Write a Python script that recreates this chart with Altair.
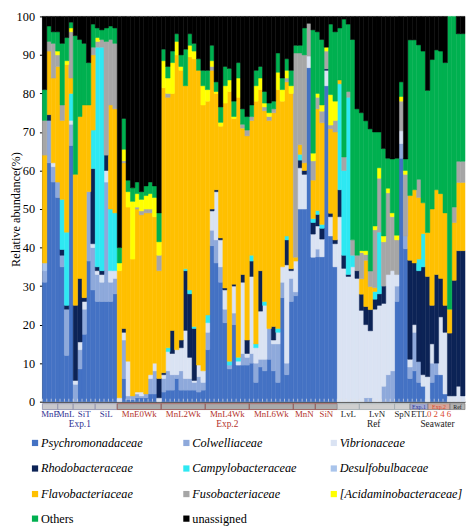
import altair as alt
import pandas as pd

# ---------------- data ----------------
categories = ["Psychromonadaceae", "Colwelliaceae", "Vibrionaceae",
              "Rhodobacteraceae", "Campylobacteraceae", "Desulfobulbaceae",
              "Flavobacteriaceae", "Fusobacteriaceae", "[Acidaminobacteraceae]",
              "Others", "unassigned"]

psychro = [
    31, 62, 57, 53, 35, 12, 66.5, 0, 8.5, 17.5, 36.5, 29, 26, 26, 26, 26, 28,
    0, 6, 0.5, 0.5, 1, 1, 1, 2, 2, 0,
    2.5, 3, 3, 6, 3, 3, 3, 3, 2.5, 3,
    13.5, 40.5, 36, 31, 20.5, 8.5, 20, 9.5, 9.5, 9.5,
    10, 5, 9, 8, 11, 8, 5, 27, 7, 26,
    27.5, 50, 50, 86.7, 37.5,
    37.6, 37.6, 82, 43, 35,
    0, 0, 0, 0, 0,
    0, 0, 0, 0, 0, 0, 0, 0,
    26, 63.2, 39.7,
    6, 8, 5, 4, 0, 5, 7, 7, 2, 0, 0, 0, 0,
]
colwell = [
    3, 11, 4, 4, 3, 12, 5.5, 4.5, 5, 6.5, 18, 11, 7, 5, 31, 5, 4,
    0, 10, 1, 1, 1, 0.5, 1, 4, 6, 0,
    3.5, 5, 4, 1, 5, 3, 3, 2, 4, 2,
    4.5, 4, 6, 4, 3.5, 1, 3, 0, 3, 2,
    2.5, 5, 2, 3, 8, 7, 10, 4, 3, 6,
    1, 0, 0, 0, 0,
    2, 0, 0, 0, 0,
    0, 0, 0, 0, 0,
    0, 1, 1, 0, 0, 4, 7, 8,
    4, 3.8, 3.3,
    3, 10, 5.4, 0, 0, 5, 3, 0, 0, 0, 0, 0, 0,
]
vibrio = [
    0, 0, 1, 0, 0, 0, 1, 1, 2, 2, 0, 1, 1, 2, 3, 3, 2,
    1, 2, 9, 0, 0.5, 1, 0, 1, 2, 1,
    1, 5, 5.5, 6.5, 6, 12.5, 5.5, 0.5, 3, 3,
    2.5, 5, 12.5, 7, 5, 0, 7, 1, 18.5, 1,
    20, 4, 12.5, 14, 0, 1, 3, 4, 25.5, 2,
    8, 10.7, 9, 3, 6,
    6, 4.6, 4, 5, 6,
    48, 34.6, 32.5, 35, 32,
    23.7, 19, 17.4, 24, 25, 21.5, 26, 26,
    3, 3.3, 0,
    2, 2, 0, 3, 6.5, 5, 0, 15, 16, 1.5, 1.5, 4, 1.5,
]
rhodo = [
    0, 1.5, 0, 0, 1.5, 1, 0, 19.5, 16.5, 1, 0, 19.5, 1, 1, 4, 0, 0,
    0, 1, 0, 0, 0, 0, 0, 0, 0, 5,
    0.5, 0, 6, 0, 2, 15.5, 16.5, 13.5, 0, 0,
    0, 0.5, 0.5, 0.5, 0.5, 0, 0.5, 0, 2, 3.5,
    4, 0, 10.5, 0, 0, 3.5, 0, 0, 6.5, 0.5,
    0, 2, 1, 0, 3,
    3, 2.8, 0.4, 0.9, 1,
    7, 3.4, 0.5, 0, 2,
    4.2, 4.7, 5.5, 2.6, 3, 4.5, 0, 0,
    0, 0, 0,
    25.7, 16, 23.6, 28, 26, 10, 23, 10, 7, 16.3, 30, 35.2, 37.7,
]
campylo = [
    0, 0, 0, 0, 13, 19, 7, 0, 0, 0, 0, 10, 57, 58, 0, 16, 15,
    0, 0, 0, 0, 0, 0, 0, 0, 0, 0,
    0, 1, 0, 0, 0, 0.5, 1, 0.5, 0, 0,
    2, 0, 0, 0, 0, 1, 0, 1, 0, 0,
    1.5, 1, 0, 1, 0, 0, 1, 0, 1, 0,
    0, 1.5, 0, 0, 1,
    1, 1, 0, 0, 0,
    27.5, 22, 46, 3, 0,
    0, 0, 0, 2, 16, 0, 0, 0,
    0, 0, 0,
    0, 0, 3, 8.6, 0, 0, 0, 0, 0, 0, 0, 0, 0,
]
desulfo = [
    2, 0, 0, 0, 0, 0, 0, 0, 0, 0, 0, 0, 0, 0, 0, 0, 0,
    0, 0, 0, 0, 0, 0, 0, 0, 0, 0,
    0, 0, 0, 0, 0, 0, 0, 0, 0, 0,
    0, 0, 0, 0, 0, 0, 0, 0, 0, 0,
    0, 0, 0, 0, 0, 0, 0, 0, 0, 0,
    0, 0, 0, 0, 0,
    0, 0, 0, 0, 0,
    0, 0, 0, 0, 0,
    0, 0, 0, 0, 0, 0, 0, 0,
    0, 0, 0,
    0, 0, 0, 0, 0, 0, 0, 0, 0, 0, 0, 0, 0,
]
flavo = [
    28, 16.5, 22, 30, 20.5, 43.5, 4, 34, 42, 50, 22.5, 19.5, 0, 0, 0, 27, 27,
    33, 43, 40, 35.5, 47.5, 46, 47, 42, 38, 28,
    74, 65, 61.5, 76.5, 70, 47.5, 60.5, 69.5, 76.5, 69,
    55.5, 36, 25, 29, 48, 70, 43, 67.5, 38, 53,
    35, 63, 47, 49.5, 54, 55.5, 62, 43, 40, 45.5,
    1, 2.5, 2, 0, 10,
    26.4, 26.4, 0, 21.9, 28,
    1, 0, 0, 0, 0,
    4, 12, 6, 1, 0, 0, 0, 0,
    0, 0, 0,
    16.8, 19, 16, 8, 11.4, 25, 22, 22, 24, 6.2, 15, 17.7, 17.7,
]
fuso = [
    9, 2.5, 9, 3, 4, 0, 12, 0, 0, 0, 0, 2, 1.5, 2, 29.5, 17, 17,
    0, 0.5, 0, 0, 0.5, 1, 1, 1, 0, 4,
    0, 1, 0, 0, 0, 0, 0, 0, 0, 0,
    0, 1, 0, 0, 0, 0, 0, 0, 1, 1.5,
    1, 0, 0, 1, 1, 1, 0, 0, 1, 0,
    53, 23.8, 28, 8.5, 5,
    3, 3, 4.6, 1, 3,
    0, 3.5, 1.5, 4, 4,
    6.8, 1.5, 4, 15, 14, 11.5, 21.2, 14,
    9, 7.7, 16,
    0, 0, 4.7, 0, 0, 0, 0, 0, 0, 0, 4, 5.5, 5.5,
]
acid = [
    0, 0, 0, 1, 0, 1, 1, 0, 0, 0, 0, 0, 1, 0, 0, 0, 0,
    2, 3, 4, 15, 3.5, 3, 3.5, 4, 5, 3.5,
    7, 4, 8, 3.5, 1, 0, 3, 2, 0, 5,
    3, 1.5, 0.5, 1, 4.5, 3, 0.5, 5, 0, 0,
    0, 4, 3, 1, 1, 0, 4.5, 3, 2, 2,
    0, 0, 0, 0, 2,
    1, 1.6, 1, 7.9, 5,
    0, 0, 0, 0, 0,
    0.5, 1, 0, 1, 2.7, 1.5, 1.2, 1,
    1.2, 1.2, 1,
    0, 0, 0, 0, 0, 0, 0, 0, 0, 0, 0, 0, 0,
]
others = [
    8, 4, 3, 5, 16, 6, 1.5, 36, 20, 16, 11, 6, 2.5, 2.5, 3.5, 3.5, 4,
    4, 8, 3, 3.5, 3, 2, 2.5, 3, 3, 7.5,
    3, 3, 3, 2, 3, 9.5, 3, 2, 3, 4,
    5, 4, 2.5, 4, 5, 3, 4, 4, 4, 3.5,
    3, 4, 3, 3, 2.5, 2, 5, 3, 3, 4,
    2, 2, 7, 0, 32,
    16, 17, 0, 18.3, 18,
    13.5, 35.8, 17.5, 52, 38,
    35.8, 33.7, 36.9, 24.4, 9.3, 22.7, 7.8, 14,
    20, 3.8, 3,
    40.4, 38.9, 34.9, 39.4, 36.9, 38.8, 36.3, 37, 39, 76, 49.5, 33.1, 33.1,
]
unassigned = [
    19, 2.5, 4, 4, 7, 5.5, 1.5, 5, 6, 7, 12, 2, 3, 3.5, 3, 2.5, 3,
    60, 26.5, 42.5, 44.5, 43, 45.5, 44, 43, 44, 51,
    8.5, 13, 9, 4.5, 10, 8.5, 4.5, 7, 11, 14,
    14, 7.5, 17, 23.5, 13, 13.5, 22, 12, 24, 26,
    23, 14, 13, 19.5, 22.5, 22, 9.5, 16, 11, 14,
    7.5, 7.5, 3, 1.8, 3.5,
    4, 6, 8, 2, 4,
    3, 0.7, 2, 6, 24,
    25, 27.1, 29.2, 30, 30, 34.3, 36.8, 37,
    36.8, 17, 37,
    6.1, 6.1, 7.4, 9, 19.2, 11.2, 8.7, 9, 12, 0, 0, 4.5, 4.5,
]

series = [psychro, colwell, vibrio, rhodo, campylo, desulfo,
          flavo, fuso, acid, others, unassigned]

# sample groups (bar index boundaries)
group_names = ["MnE", "MnL", "SiT", "SiL", "MnE0Wk", "MnL2Wk", "MnL4Wk",
               "MnL6Wk", "MnN", "SiN", "LvL", "LvN", "SpN"]
group_bounds = [0, 3.5, 7, 12, 17, 27, 37, 47, 57, 62, 67, 72, 80, 83.5]
group_experiment = ["Exp.1"] * 4 + ["Exp.2"] * 6 + ["Ref"] * 3
experiments = ["Exp.1", "Exp.2", "Ref", "Seawater"]
experiment_bounds = [0, 17, 67, 83.5, 96]
seawater_boxes = ["Exp.1", "Exp.2", "Ref"]
seawater_bounds = [83.5, 87.6, 92.6, 96]
seawater_sublabels = ["ETL", "0 2 4 6", ""]

# ---------------- styles ----------------
cat_colors = ["#4472C4", "#8EA9DB", "#DAE3F3", "#0C2356", "#2EE8F2", "#A9C4EB",
              "#FFC000", "#A6A6A6", "#FFFF00", "#00B050", "#000000"]
exp_fill = {"Exp.1": "#C8C8CC", "Exp.2": "#AAAAAA", "Ref": "#CFCFCF"}
exp_stroke = {"Exp.1": "#8A8CAA", "Exp.2": "#8E4A48", "Ref": "#9DA8AE"}
exp_text = {"Exp.1": "#2E3192", "Exp.2": "#B3322B", "Ref": "#1A1A1A", "Seawater": "#1A1A1A"}
box_fill = {"Exp.1": "#A3AAD2", "Exp.2": "#D6A79A", "Ref": "#B3B3B3"}
box_text = {"Exp.1": "#2E3192", "Exp.2": "#D9472B", "Ref": "#1A1A1A"}
sub_text = {"ETL": "#1A1A1A", "0 2 4 6": "#D9472B", "": "#1A1A1A"}
SERIF = "Liberation Serif, Times New Roman, Times, serif"

W, H = 430, 392
N = len(psychro)

legend_square_x = [-7.5, 146.5, 296.5]
legend_text_x = [-1.5, 152.5, 302.5]
legend_row_y = [434, 460, 486, 511]

# ---------------- tables ----------------
rows = []
for k, (name, vals) in enumerate(zip(categories, series)):
    for i, v in enumerate(vals):
        if v > 0:
            rows.append({"bar": i, "bar_end": i + 1, "family": name, "k": k, "value": v})
bars_df = pd.DataFrame(rows)

xs = alt.Scale(domain=[0, N], nice=False, zero=False, padding=0)
ys = alt.Scale(domain=[0, 100], nice=False, zero=True)
fam_scale = alt.Scale(domain=categories, range=cat_colors)

bars = alt.Chart(bars_df).transform_stack(
    stack="value", groupby=["bar"], as_=["y0", "y1"],
    sort=[alt.SortField("k", order="ascending")]
).mark_rect(strokeWidth=0.5).encode(
    x=alt.X("bar:Q", scale=xs,
            axis=alt.Axis(labels=False, ticks=False, grid=False, title=None,
                          domainColor="#000000", domainWidth=1)),
    x2="bar_end:Q",
    y=alt.Y("y0:Q", scale=ys,
            axis=alt.Axis(values=list(range(0, 101, 10)), grid=False,
                          title="Relative abundance(%)", titleFont=SERIF,
                          titleFontSize=12.5, titleFontWeight="normal",
                          titleColor="#000000", titleX=-33, titleBaseline="top",
                          labelFont=SERIF, labelFontSize=12.5, labelColor="#000000",
                          tickSize=3, tickColor="#000000", labelPadding=5,
                          domainColor="#000000")),
    y2="y1:Q",
    fill=alt.Fill("family:N", scale=fam_scale, legend=None),
    stroke=alt.Stroke("family:N", scale=fam_scale, legend=None),
)

tick_df = pd.DataFrame({"b": list(range(N + 1))})
ticks = alt.Chart(tick_df).mark_rule(color="#E4E4E4", strokeWidth=0.7).encode(
    x=alt.X("b:Q", scale=xs), y=alt.value(H - 3), y2=alt.value(H))

band_df = pd.DataFrame({
    "name": group_names,
    "start": group_bounds[:-1],
    "end": group_bounds[1:],
    "exp": group_experiment,
})
band_df["mid"] = (band_df["start"] + band_df["end"]) / 2
band_df["fillc"] = band_df["exp"].map(exp_fill)
band_df["strokec"] = band_df["exp"].map(exp_stroke)
band_df["textc"] = band_df["exp"].map(exp_text)

band = alt.Chart(band_df).mark_rect(strokeWidth=0.8).encode(
    x=alt.X("start:Q", scale=xs), x2="end:Q",
    y=alt.value(H + 2), y2=alt.value(H + 8),
    fill=alt.Fill("fillc:N", scale=None),
    stroke=alt.Stroke("strokec:N", scale=None),
)
group_text = alt.Chart(band_df).mark_text(
    font=SERIF, fontSize=9, baseline="middle", align="center").encode(
    x=alt.X("mid:Q", scale=xs), y=alt.value(H + 13),
    text="name:N", color=alt.Color("textc:N", scale=None))

sea_df = pd.DataFrame({
    "box": seawater_boxes,
    "start": seawater_bounds[:-1],
    "end": seawater_bounds[1:],
    "sub": seawater_sublabels,
})
sea_df["mid"] = (sea_df["start"] + sea_df["end"]) / 2
sea_df["fillc"] = sea_df["box"].map(box_fill)
sea_df["textc"] = sea_df["box"].map(box_text)
sea_df["subc"] = sea_df["sub"].map(sub_text)

sea_band = alt.Chart(sea_df).mark_rect(strokeWidth=0.6, stroke="#666666").encode(
    x=alt.X("start:Q", scale=xs), x2="end:Q",
    y=alt.value(H + 2), y2=alt.value(H + 8),
    fill=alt.Fill("fillc:N", scale=None))
sea_box_text = alt.Chart(sea_df).mark_text(
    font=SERIF, fontSize=6, baseline="middle", align="center").encode(
    x=alt.X("mid:Q", scale=xs), y=alt.value(H + 5),
    text="box:N", color=alt.Color("textc:N", scale=None))
sea_sub_text = alt.Chart(sea_df).mark_text(
    font=SERIF, fontSize=9, baseline="middle", align="center").encode(
    x=alt.X("mid:Q", scale=xs), y=alt.value(H + 13),
    text="sub:N", color=alt.Color("subc:N", scale=None))

exp_df = pd.DataFrame({
    "exp": experiments,
    "start": experiment_bounds[:-1],
    "end": experiment_bounds[1:],
})
exp_df["mid"] = (exp_df["start"] + exp_df["end"]) / 2
exp_df["textc"] = exp_df["exp"].map(exp_text)
exp_labels = alt.Chart(exp_df).mark_text(
    font=SERIF, fontSize=9.5, baseline="middle", align="center").encode(
    x=alt.X("mid:Q", scale=xs), y=alt.value(H + 23),
    text="exp:N", color=alt.Color("textc:N", scale=None))

leg_rows = []
for k, (name, col) in enumerate(zip(categories, cat_colors)):
    leg_rows.append({
        "family": name, "color": col,
        "sx": legend_square_x[k % 3], "tx": legend_text_x[k % 3],
        "py": legend_row_y[k // 3],
        "italic": name not in ("Others", "unassigned"),
    })
leg_df = pd.DataFrame(leg_rows)

leg_sq = alt.Chart(leg_df).mark_square(size=40, opacity=1).encode(
    x=alt.X("sx:Q", scale=None), y=alt.Y("py:Q", scale=None),
    color=alt.Color("color:N", scale=None))
leg_it = alt.Chart(leg_df[leg_df["italic"]]).mark_text(
    font=SERIF, fontSize=12.5, fontStyle="italic", align="left",
    baseline="middle", color="#000000").encode(
    x=alt.X("tx:Q", scale=None), y=alt.Y("py:Q", scale=None), text="family:N")
leg_up = alt.Chart(leg_df[~leg_df["italic"]]).mark_text(
    font=SERIF, fontSize=12.5, align="left", baseline="middle",
    color="#000000").encode(
    x=alt.X("tx:Q", scale=None), y=alt.Y("py:Q", scale=None), text="family:N")

chart = alt.layer(
    bars, ticks, band, sea_band, sea_box_text, group_text, sea_sub_text,
    exp_labels, leg_sq, leg_it, leg_up
).properties(
    width=W, height=H,
    padding={"left": 35, "top": 4, "right": 1, "bottom": 125},
    autosize=alt.AutoSizeParams(type="none"),
).configure_view(stroke=None)

chart.save("out.html", embed_options={"renderer": "svg", "actions": False})
